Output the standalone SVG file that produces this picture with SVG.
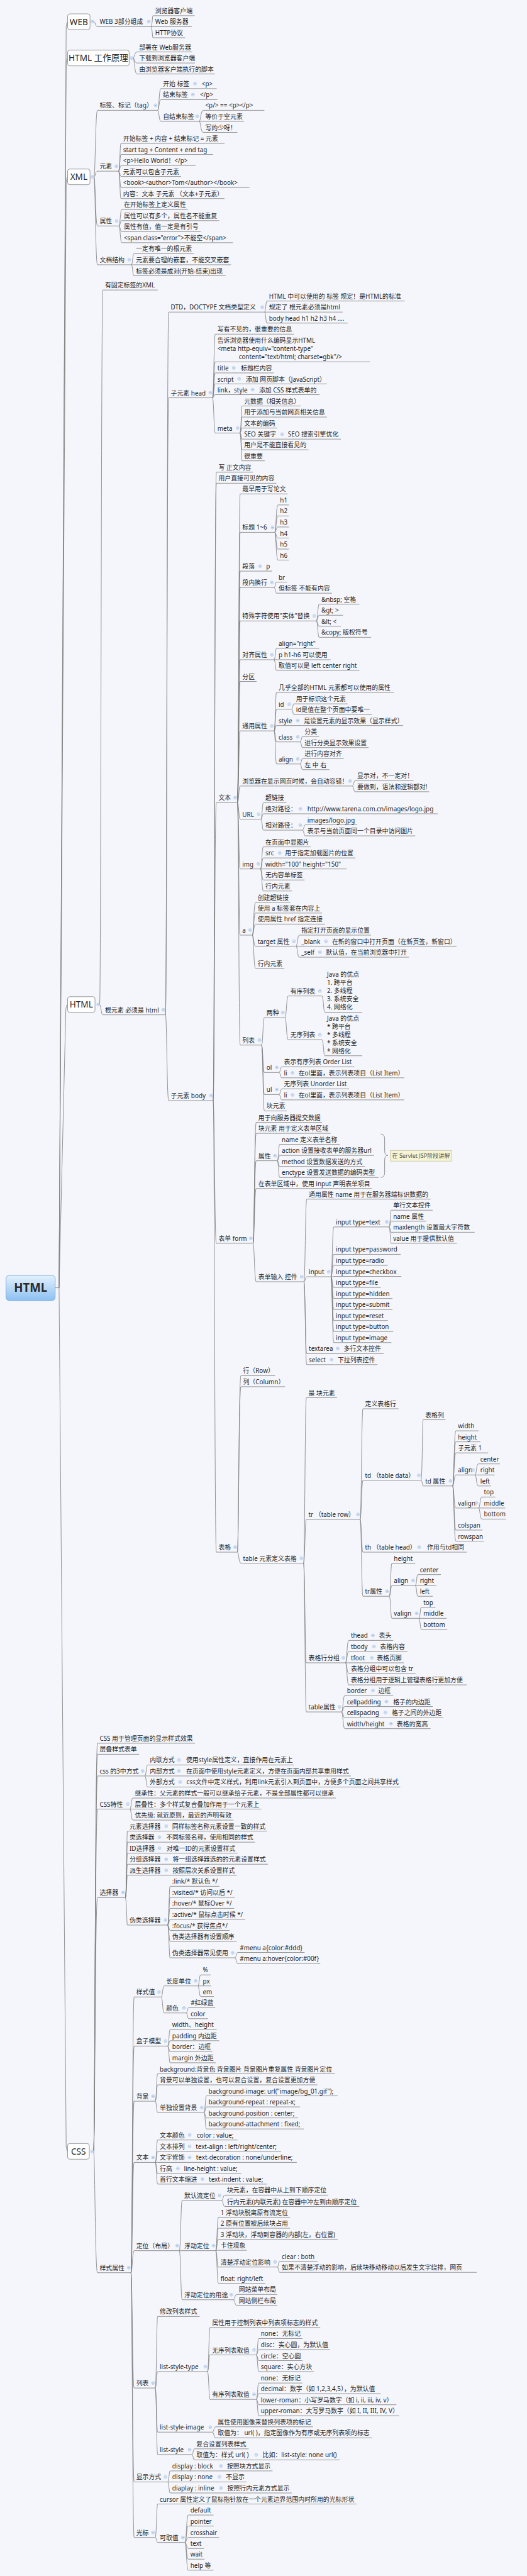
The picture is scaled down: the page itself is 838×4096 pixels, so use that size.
<svg xmlns="http://www.w3.org/2000/svg" width="838" height="4096" viewBox="0 0 838 4096">
<defs>
<style>
text{font-family:"Noto Sans","Noto Sans CJK SC",sans-serif;font-size:17.5px;fill:#1f1f1f}
.u,.c path{fill:none;stroke:#7f7f7f;stroke-width:1.5}
.box{fill:#fff;stroke:#8a8a8a;stroke-width:1.5}
.bt{font-size:24px;text-anchor:middle}
</style>
<linearGradient id="rg" x1="0" y1="0" x2="0" y2="1"><stop offset="0" stop-color="#e4f1fd"/><stop offset="1" stop-color="#8cc0f2"/></linearGradient>
<g id="k"><circle r="4.3" fill="#dde8f7" stroke="#9db9e0" stroke-width="1"/><path d="M-2.2 0H2.2" stroke="#6e93c9" stroke-width="1.1"/></g>
</defs>
<rect width="838" height="4096" fill="#f4f6fb"/>
<g transform="scale(0.5658)">
<g id="connectors" class="c">
<path d="M155 3619H166L186 75Q188 61 190 61"/>
<path d="M166 3619L186 177Q188 163 190 163"/>
<path d="M166 3619L186 511Q188 497 190 497"/>
<path d="M166 3619L185 2837Q187 2823 190 2823"/>
<path d="M166 3619L186 6032Q188 6046 190 6046"/>
<path d="M264 61C268 61 268 75 274 75"/>
<path d="M374 163C378 163 378 146 385 146M374 163C378 163 378 177 385 177M374 163C378 163 378 208 385 208"/>
<path d="M264 497C268 497 268 310 274 310M264 497C268 497 268 481 274 481M264 497C268 497 268 635 274 635M264 497C268 497 268 744 274 744"/>
<path d="M280 2823C284 2823 284 815 289 815M280 2823C284 2823 284 2852 289 2852"/>
<path d="M263 6046C267 6046 267 4899 274 4899M263 6046C267 6046 267 4930 274 4930M263 6046C267 6046 267 4991 274 4991M263 6046C267 6046 267 5084 274 5084M263 6046C267 6046 267 5333 274 5333M263 6046C267 6046 267 6387 274 6387"/>
<path d="M424 75C428 75 428 44 430 44M424 75H430M424 75C428 75 428 106 430 106"/>
<path d="M443 310C447 310 447 249 452 249M443 310C447 310 447 280 452 280M443 310C447 310 447 341 452 341M554 249H561M548 280H556"/>
<path d="M560 341C564 341 564 310 571 310M560 341H571M560 341C564 341 564 372 571 372"/>
<path d="M333 481C337 481 337 403 340 403M333 481C337 481 337 434 340 434M333 481C337 481 337 465 340 465M333 481C337 481 337 496 340 496M333 481C337 481 337 527 340 527M333 481C337 481 337 558 340 558"/>
<path d="M334 635C338 635 338 589 342 589M334 635C338 635 338 620 342 620M334 635C338 635 338 651 342 651M334 635C338 635 338 682 342 682"/>
<path d="M369 744C373 744 373 713 376 713M369 744H376M369 744C373 744 373 775 376 775"/>
<path d="M465 2852C469 2852 469 877 474 877M465 2852C469 2852 469 1118 474 1118M465 2852C469 2852 469 3093 474 3093"/>
<path d="M743 877C747 877 747 846 750 846M743 877H750M743 877C747 877 747 908 750 908"/>
<path d="M597 1118C601 1118 601 939 605 939M597 1118C601 1118 601 1017 605 1017M597 1118C601 1118 601 1048 605 1048M597 1118C601 1118 601 1079 605 1079M597 1118C601 1118 601 1109 605 1109M597 1118C601 1118 601 1217 605 1217M663 1048H671M678 1079H685M716 1109H722"/>
<path d="M674 1217C678 1217 678 1141 680 1141M674 1217C678 1217 678 1172 680 1172M674 1217C678 1217 678 1203 680 1203M674 1217C678 1217 678 1234 680 1234M674 1217C678 1217 678 1264 680 1264M674 1217C678 1217 678 1295 680 1295M799 1234H803"/>
<path d="M599 3093C603 3093 603 1327 608 1327M599 3093C603 3093 603 1358 608 1358M599 3093C603 3093 603 2256 608 2256M599 3093C603 3093 603 3494 608 3494M599 3093C603 3093 603 4362 608 4362"/>
<path d="M667 2256C671 2256 671 1388 675 1388M667 2256C671 2256 671 1496 675 1496M667 2256C671 2256 671 1605 675 1605M667 2256C671 2256 671 1651 675 1651M667 2256C671 2256 671 1745 675 1745M667 2256C671 2256 671 1854 675 1854M667 2256C671 2256 671 1915 675 1915M667 2256C671 2256 671 2054 675 2054M667 2256C671 2256 671 2209 675 2209M667 2256C671 2256 671 2302 675 2302M667 2256C671 2256 671 2442 675 2442M667 2256C671 2256 671 2628 675 2628M667 2256C671 2256 671 2937 675 2937M737 1605H742"/>
<path d="M772 1496C776 1496 776 1419 781 1419M772 1496C776 1496 776 1450 781 1450M772 1496C776 1496 776 1481 781 1481M772 1496C776 1496 776 1512 781 1512M772 1496C776 1496 776 1543 781 1543M772 1496C776 1496 776 1574 781 1574"/>
<path d="M770 1651C774 1651 774 1636 777 1636M770 1651C774 1651 774 1667 777 1667"/>
<path d="M889 1745C893 1745 893 1698 897 1698M889 1745C893 1745 893 1729 897 1729M889 1745C893 1745 893 1760 897 1760M889 1745C893 1745 893 1791 897 1791"/>
<path d="M770 1854C774 1854 774 1822 777 1822M770 1854H777M770 1854C774 1854 774 1884 777 1884"/>
<path d="M770 2054C774 2054 774 1946 777 1946M770 2054C774 2054 774 1993 777 1993M770 2054C774 2054 774 2039 777 2039M770 2054C774 2054 774 2085 777 2085M770 2054C774 2054 774 2147 777 2147M843 2039H848"/>
<path d="M819 1993C823 1993 823 1978 826 1978M819 1993C823 1993 823 2008 826 2008"/>
<path d="M843 2085C847 2085 847 2070 850 2070M843 2085C847 2085 847 2101 850 2101M843 2147C847 2147 847 2132 850 2132M843 2147C847 2147 847 2163 850 2163"/>
<path d="M990 2209C994 2209 994 2194 998 2194M990 2209C994 2209 994 2225 998 2225"/>
<path d="M733 2302C737 2302 737 2256 740 2256M733 2302C737 2302 737 2287 740 2287M733 2302C737 2302 737 2333 740 2333M850 2287H858M850 2333C854 2333 854 2318 858 2318M850 2333C854 2333 854 2349 858 2349"/>
<path d="M732 2442C736 2442 736 2380 740 2380M732 2442C736 2442 736 2411 740 2411M732 2442H740M732 2442C736 2442 736 2473 740 2473M732 2442C736 2442 736 2504 740 2504M792 2411H795"/>
<path d="M709 2628C713 2628 713 2536 718 2536M709 2628C713 2628 713 2566 718 2566M709 2628C713 2628 713 2597 718 2597M709 2628C713 2628 713 2659 718 2659M709 2628C713 2628 713 2721 718 2721"/>
<path d="M832 2659C836 2659 836 2628 841 2628M832 2659H841M832 2659C836 2659 836 2690 841 2690M922 2659H927M905 2690H910"/>
<path d="M735 2937C739 2937 739 2860 743 2860M735 2937C739 2937 739 3014 743 3014M735 2937C739 2937 739 3076 743 3076M735 2937C739 2937 739 3122 743 3122"/>
<path d="M801 2860C805 2860 805 2799 810 2799M801 2860C805 2860 805 2922 810 2922M905 2799C909 2799 909 2845 913 2845M905 2922C909 2922 909 2967 913 2967"/>
<path d="M784 3014C788 3014 788 2998 792 2998M784 3014C788 3014 788 3029 792 3029M828 3029H833M784 3076C788 3076 788 3060 792 3060M784 3076C788 3076 788 3091 792 3091M828 3091H833"/>
<path d="M711 3494C715 3494 715 3154 720 3154M711 3494C715 3494 715 3185 720 3185M711 3494C715 3494 715 3262 720 3262M711 3494C715 3494 715 3340 720 3340M711 3494C715 3494 715 3602 720 3602"/>
<path d="M779 3262C783 3262 783 3216 786 3216M779 3262C783 3262 783 3247 786 3247M779 3262C783 3262 783 3278 786 3278M779 3262C783 3262 783 3309 786 3309"/>
<path d="M854 3602C858 3602 858 3370 862 3370M854 3602C858 3602 858 3588 862 3588M854 3602C858 3602 858 3804 862 3804M854 3602C858 3602 858 3835 862 3835M955 3804H960M938 3835H943"/>
<path d="M930 3588C934 3588 934 3448 938 3448M930 3588C934 3588 934 3525 938 3525M930 3588C934 3588 934 3556 938 3556M930 3588C934 3588 934 3587 938 3587M930 3588C934 3588 934 3618 938 3618M930 3588C934 3588 934 3649 938 3649M930 3588C934 3588 934 3680 938 3680M930 3588C934 3588 934 3711 938 3711M930 3588C934 3588 934 3742 938 3742M930 3588C934 3588 934 3773 938 3773"/>
<path d="M1093 3448C1097 3448 1097 3401 1099 3401M1093 3448C1097 3448 1097 3432 1099 3432M1093 3448C1097 3448 1097 3463 1099 3463M1093 3448C1097 3448 1097 3494 1099 3494"/>
<path d="M667 4362C671 4362 671 3866 677 3866M667 4362C671 4362 671 3897 677 3897M667 4362C671 4362 671 4393 677 4393"/>
<path d="M853 4393C857 4393 857 3928 861 3928M853 4393C857 4393 857 4270 861 4270M853 4393C857 4393 857 4673 861 4673M853 4393C857 4393 857 4811 861 4811"/>
<path d="M1012 4270C1016 4270 1016 3959 1020 3959M1012 4270C1016 4270 1016 4160 1020 4160M1012 4270C1016 4270 1016 4362 1020 4362M1012 4270C1016 4270 1016 4486 1020 4486M1184 4362H1194"/>
<path d="M1183 4160C1187 4160 1187 3990 1189 3990M1183 4160C1187 4160 1187 4176 1189 4176"/>
<path d="M1272 4176C1276 4176 1276 4021 1281 4021M1272 4176C1276 4176 1276 4052 1281 4052M1272 4176C1276 4176 1276 4083 1281 4083M1272 4176C1276 4176 1276 4145 1281 4145M1272 4176C1276 4176 1276 4238 1281 4238M1272 4176C1276 4176 1276 4300 1281 4300M1272 4176C1276 4176 1276 4331 1281 4331"/>
<path d="M1335 4145C1339 4145 1339 4114 1344 4114M1335 4145H1344M1335 4145C1339 4145 1339 4176 1344 4176M1345 4238C1349 4238 1349 4207 1354 4207M1345 4238H1354M1345 4238C1349 4238 1349 4269 1354 4269"/>
<path d="M1094 4486C1098 4486 1098 4394 1101 4394M1094 4486C1098 4486 1098 4456 1101 4456M1094 4486C1098 4486 1098 4548 1101 4548"/>
<path d="M1167 4456C1171 4456 1171 4425 1174 4425M1167 4456H1174M1167 4456C1171 4456 1171 4486 1174 4486M1177 4548C1181 4548 1181 4517 1184 4517M1177 4548H1184M1177 4548C1181 4548 1181 4579 1184 4579"/>
<path d="M971 4673C975 4673 975 4610 980 4610M971 4673C975 4673 975 4641 980 4641M971 4673H980M971 4673C975 4673 975 4703 980 4703M971 4673C975 4673 975 4735 980 4735M1054 4610H1059M1057 4641H1062M1051 4673H1053"/>
<path d="M960 4811C964 4811 964 4765 969 4765M960 4811C964 4811 964 4796 969 4796M960 4811C964 4811 964 4827 969 4827M960 4811C964 4811 964 4858 969 4858M1054 4765H1057M1092 4796H1099M1089 4827H1095M1105 4858H1109"/>
<path d="M407 4991C411 4991 411 4960 415 4960M407 4991H415M407 4991C411 4991 411 5022 415 5022M509 4960H517M509 4991H517M512 5022H518"/>
<path d="M365 5084C369 5084 369 5053 373 5053M365 5084H373M365 5084C369 5084 369 5115 373 5115"/>
<path d="M352 5333C356 5333 356 5146 358 5146M352 5333C356 5333 356 5177 358 5177M352 5333C356 5333 356 5208 358 5208M352 5333C356 5333 356 5239 358 5239M352 5333C356 5333 356 5270 358 5270M352 5333C356 5333 356 5410 358 5410M473 5146H478M454 5177H461M454 5208H462M473 5239H479M473 5270H479"/>
<path d="M471 5410C475 5410 475 5301 478 5301M471 5410C475 5410 475 5332 478 5332M471 5410C475 5410 475 5363 478 5363M471 5410C475 5410 475 5394 478 5394M471 5410C475 5410 475 5425 478 5425M471 5410C475 5410 475 5456 478 5456M471 5410C475 5410 475 5502 478 5502M660 5502C664 5502 664 5487 668 5487M660 5502C664 5502 664 5518 668 5518"/>
<path d="M368 6387C372 6387 372 5612 377 5612M368 6387C372 6387 372 5750 377 5750M368 6387C372 6387 372 5905 377 5905M368 6387C372 6387 372 6077 377 6077M368 6387C372 6387 372 6325 377 6325M368 6387C372 6387 372 6711 377 6711M368 6387C372 6387 372 6975 377 6975M368 6387C372 6387 372 7131 377 7131"/>
<path d="M453 5612C457 5612 457 5581 461 5581M453 5612C457 5612 457 5657 461 5657M556 5581C560 5581 560 5550 564 5550M556 5581H564M556 5581C560 5581 560 5611 564 5611M523 5657C527 5657 527 5642 530 5642M523 5657C527 5657 527 5673 530 5673"/>
<path d="M471 5750C475 5750 475 5704 478 5704M471 5750C475 5750 475 5735 478 5735M471 5750C475 5750 475 5766 478 5766M471 5750C475 5750 475 5797 478 5797"/>
<path d="M436 5905C440 5905 440 5828 443 5828M436 5905C440 5905 440 5859 443 5859M436 5905C440 5905 440 5937 443 5937M573 5937C577 5937 577 5890 580 5890M573 5937C577 5937 577 5921 580 5921M573 5937C577 5937 577 5952 580 5952M573 5937C577 5937 577 5983 580 5983"/>
<path d="M436 6077C440 6077 440 6014 443 6014M436 6077C440 6077 440 6046 443 6046M436 6077H443M436 6077C440 6077 440 6108 443 6108M436 6077C440 6077 440 6138 443 6138M539 6014H547M539 6046H544M539 6077H545M506 6108H511M575 6138H581"/>
<path d="M504 6325C508 6325 508 6184 512 6184M504 6325H512M504 6325C508 6325 508 6463 512 6463M623 6184C627 6184 627 6169 632 6169M623 6184C627 6184 627 6201 632 6201"/>
<path d="M606 6325C610 6325 610 6231 614 6231M606 6325C610 6325 610 6262 614 6262M606 6325C610 6325 610 6293 614 6293M606 6325C610 6325 610 6324 614 6324M606 6325C610 6325 610 6371 614 6371M606 6325C610 6325 610 6417 614 6417M779 6371C783 6371 783 6355 786 6355M779 6371C783 6371 783 6386 786 6386M656 6463C660 6463 660 6448 665 6448M656 6463C660 6463 660 6479 665 6479"/>
<path d="M436 6711C440 6711 440 6510 443 6510M436 6711C440 6711 440 6665 443 6665M436 6711C440 6711 440 6835 443 6835M436 6711C440 6711 440 6898 443 6898"/>
<path d="M583 6665C587 6665 587 6541 590 6541M583 6665C587 6665 587 6618 590 6618M583 6665C587 6665 587 6743 590 6743"/>
<path d="M720 6618C724 6618 724 6572 727 6572M720 6618C724 6618 724 6603 727 6603M720 6618C724 6618 724 6634 727 6634M720 6618C724 6618 724 6665 727 6665M720 6743C724 6743 724 6697 727 6697M720 6743C724 6743 724 6727 727 6727M720 6743C724 6743 724 6758 727 6758M720 6743C724 6743 724 6789 727 6789"/>
<path d="M597 6835C601 6835 601 6820 606 6820M597 6835C601 6835 601 6851 606 6851M539 6898C543 6898 543 6882 546 6882M539 6898C543 6898 543 6913 546 6913M726 6913H732"/>
<path d="M471 6975C475 6975 475 6944 478 6944M471 6975H478M471 6975C475 6975 475 7006 478 7006M627 6944H632M623 6975H629M627 7006H633"/>
<path d="M436 7131C440 7131 440 7037 443 7037M436 7131C440 7131 440 7145 443 7145M520 7145C524 7145 524 7068 529 7068M520 7145C524 7145 524 7099 529 7099M520 7145C524 7145 524 7131 529 7131M520 7145C524 7145 524 7162 529 7162M520 7145C524 7145 524 7192 529 7192M520 7145C524 7145 524 7223 529 7223"/>
</g>
<g id="root"><rect x="17" y="3584" width="138" height="71" rx="9" fill="url(#rg)" stroke="#6f9fd3" stroke-width="1.5"/><text x="86" y="3631" style="font-size:33px;font-weight:bold;text-anchor:middle;fill:#2b2b2b">HTML</text></g>
<g id="web"><rect class="box" x="190" y="39" width="63" height="44" rx="6"/><text class="bt" x="221.5" y="70">WEB</text><use href="#k" x="260" y="61"/></g>
<g id="htmlwork"><rect class="box" x="190" y="141" width="173" height="44" rx="6"/><text class="bt" x="276.5" y="172">HTML 工作原理</text><use href="#k" x="370" y="163"/></g>
<g id="xml"><rect class="box" x="190" y="475" width="63" height="44" rx="6"/><text class="bt" x="221.5" y="506">XML</text><use href="#k" x="260" y="497"/></g>
<g id="html"><rect class="box" x="190" y="2801" width="77" height="44" rx="6"/><text class="bt" x="228.5" y="2832">HTML</text><use href="#k" x="276" y="2823"/></g>
<g id="css"><rect class="box" x="190" y="6024" width="61" height="44" rx="6"/><text class="bt" x="220.5" y="6055">CSS</text><use href="#k" x="259" y="6046"/></g>
<g id="w1"><path class="u" d="M274 75H424"/><text x="280" y="68">WEB 3部分组成</text><use href="#k" x="418" y="61"/></g>
<g id="w2"><path class="u" d="M430 44H547"/><text x="436" y="37">浏览器客户端</text></g>
<g id="w3"><path class="u" d="M430 75H539"/><text x="436" y="68">Web 服务器</text></g>
<g id="w4"><path class="u" d="M430 106H520"/><text x="436" y="99">HTTP协议</text></g>
<g id="h1n"><path class="u" d="M385 146H540"/><text x="391" y="139">部署在 Web服务器</text></g>
<g id="h2n"><path class="u" d="M385 177H548"/><text x="391" y="170">下载到浏览器客户端</text></g>
<g id="h3n"><path class="u" d="M385 208H604"/><text x="391" y="201">由浏览器客户端执行的脚本</text></g>
<g id="x1"><path class="u" d="M274 310H443"/><text x="280" y="303">标签、标记（tag）</text><use href="#k" x="437" y="296"/></g>
<g id="x2"><path class="u" d="M452 249H554"/><text x="458" y="242">开始 标签</text><use href="#k" x="548" y="235"/></g>
<g id="x3"><path class="u" d="M561 249H609"/><text x="567" y="242">&lt;p&gt;</text></g>
<g id="x4"><path class="u" d="M452 280H548"/><text x="458" y="273">结束标签</text><use href="#k" x="542" y="266"/></g>
<g id="x5"><path class="u" d="M556 280H611"/><text x="562" y="273">&lt;/p&gt;</text></g>
<g id="x6"><path class="u" d="M452 341H560"/><text x="458" y="334">自结束标签</text><use href="#k" x="554" y="327"/></g>
<g id="x7"><path class="u" d="M571 310H743"/><text x="577" y="303">&lt;p/&gt; == &lt;p&gt;&lt;/p&gt;</text></g>
<g id="x8"><path class="u" d="M571 341H686"/><text x="577" y="334">等价于空元素</text></g>
<g id="x9"><path class="u" d="M571 372H667"/><text x="577" y="365">写的少呀！</text></g>
<g id="x10"><path class="u" d="M274 481H333"/><text x="280" y="474">元素</text><use href="#k" x="327" y="467"/></g>
<g id="x11"><path class="u" d="M340 403H631"/><text x="346" y="396">开始标签 + 内容 + 结束标记 = 元素</text></g>
<g id="x12"><path class="u" d="M340 434H599"/><text x="346" y="427">start tag + Content + end tag</text></g>
<g id="x13"><path class="u" d="M340 465H550"/><text x="346" y="458">&lt;p&gt;Hello World！&lt;/p&gt;</text></g>
<g id="x14"><path class="u" d="M340 496H509"/><text x="346" y="489">元素可以包含子元素</text></g>
<g id="x15"><path class="u" d="M340 527H701"/><text x="346" y="520">&lt;book&gt;&lt;author&gt;Tom&lt;/author&gt;&lt;/book&gt;</text></g>
<g id="x16"><path class="u" d="M340 558H631"/><text x="346" y="551">内容：文本 子元素 （文本+子元素）</text></g>
<g id="x17"><path class="u" d="M274 635H334"/><text x="280" y="628">属性</text><use href="#k" x="328" y="621"/></g>
<g id="x18"><path class="u" d="M342 589H528"/><text x="348" y="582">在开始标签上定义属性</text></g>
<g id="x19"><path class="u" d="M342 620H616"/><text x="348" y="613">属性可以有多个，属性名不能重复</text></g>
<g id="x20"><path class="u" d="M342 651H564"/><text x="348" y="644">属性有值，值一定是有引号</text></g>
<g id="x21"><path class="u" d="M342 682H655"/><text x="348" y="675">&lt;span class="error"&gt;不能空&lt;/span&gt;</text></g>
<g id="x22"><path class="u" d="M274 744H369"/><text x="280" y="737">文档结构</text><use href="#k" x="363" y="730"/></g>
<g id="x23"><path class="u" d="M376 713H545"/><text x="382" y="706">一定有唯一的根元素</text></g>
<g id="x24"><path class="u" d="M376 744H649"/><text x="382" y="737">元素要合理的嵌套，不能交叉嵌套</text></g>
<g id="x25"><path class="u" d="M376 775H634"/><text x="382" y="768">标签必须是成对(开始-结束)出现</text></g>
<g id="t1"><path class="u" d="M289 815H443"/><text x="295" y="808">有固定标签的XML</text></g>
<g id="t2"><path class="u" d="M289 2852H465"/><text x="295" y="2845">根元素 必须是 html</text><use href="#k" x="459" y="2838"/></g>
<g id="t3"><path class="u" d="M474 877H743"/><text x="480" y="870">DTD，DOCTYPE 文档类型定义</text><use href="#k" x="737" y="863"/></g>
<g id="t4"><path class="u" d="M750 846H1137"/><text x="756" y="839">HTML 中可以使用的 标签 规定！是HTML的标准</text></g>
<g id="t5"><path class="u" d="M750 877H963"/><text x="756" y="870">规定了 根元素必须是html</text></g>
<g id="t6"><path class="u" d="M750 908H977"/><text x="756" y="901">body head h1 h2 h3 h4 ....</text></g>
<g id="t7"><path class="u" d="M474 1118H597"/><text x="480" y="1111">子元素 head</text><use href="#k" x="591" y="1104"/></g>
<g id="t8"><path class="u" d="M605 939H826"/><text x="611" y="932">写看不见的，很重要的信息</text></g>
<g id="t9"><path class="u" d="M605 1017H1040"/><text x="611" y="963">告诉浏览器使用什么编码显示HTML</text><text x="611" y="986">&lt;meta http-equiv="content-type"</text><text x="671" y="1009">content="text/html; charset=gbk"/&gt;</text></g>
<g id="t10"><path class="u" d="M605 1048H663"/><text x="611" y="1041">title</text><use href="#k" x="657" y="1034"/></g>
<g id="t11"><path class="u" d="M671 1048H770"/><text x="677" y="1041">标题栏内容</text></g>
<g id="t12"><path class="u" d="M605 1079H678"/><text x="611" y="1072">script</text><use href="#k" x="672" y="1065"/></g>
<g id="t13"><path class="u" d="M685 1079H919"/><text x="691" y="1072">添加 网页脚本（JavaScript）</text></g>
<g id="t14"><path class="u" d="M605 1109H716"/><text x="611" y="1102">link，style</text><use href="#k" x="710" y="1095"/></g>
<g id="t15"><path class="u" d="M722 1109H898"/><text x="728" y="1102">添加 CSS 样式表单的</text></g>
<g id="t16"><path class="u" d="M605 1217H674"/><text x="611" y="1210">meta</text><use href="#k" x="668" y="1203"/></g>
<g id="t17"><path class="u" d="M680 1141H845"/><text x="686" y="1134">元数据（相关信息）</text></g>
<g id="t18"><path class="u" d="M680 1172H919"/><text x="686" y="1165">用于添加与当前网页相关信息</text></g>
<g id="t19"><path class="u" d="M680 1203H779"/><text x="686" y="1196">文本的编码</text></g>
<g id="t20"><path class="u" d="M680 1234H799"/><text x="686" y="1227">SEO 关键字</text><use href="#k" x="793" y="1220"/></g>
<g id="t21"><path class="u" d="M803 1234H958"/><text x="809" y="1227">SEO 搜索引擎优化</text></g>
<g id="t22"><path class="u" d="M680 1264H867"/><text x="686" y="1257">用户是不能直接看见的</text></g>
<g id="t23"><path class="u" d="M680 1295H744"/><text x="686" y="1288">很重要</text></g>
<g id="b0"><path class="u" d="M474 3093H599"/><text x="480" y="3086">子元素 body</text><use href="#k" x="593" y="3079"/></g>
<g id="b1"><path class="u" d="M608 1327H711"/><text x="614" y="1320">写 正文内容</text></g>
<g id="b2"><path class="u" d="M608 1358H777"/><text x="614" y="1351">用户直接可见的内容</text></g>
<g id="b3"><path class="u" d="M608 2256H667"/><text x="614" y="2249">文本</text><use href="#k" x="661" y="2242"/></g>
<g id="b4"><path class="u" d="M675 1388H809"/><text x="681" y="1381">最早用于写论文</text></g>
<g id="b5"><path class="u" d="M675 1496H772"/><text x="681" y="1489">标题 1~6</text><use href="#k" x="766" y="1482"/></g>
<g id="b6"><path class="u" d="M781 1419H812"/><text x="787" y="1412">h1</text></g>
<g id="b7"><path class="u" d="M781 1450H812"/><text x="787" y="1443">h2</text></g>
<g id="b8"><path class="u" d="M781 1481H812"/><text x="787" y="1474">h3</text></g>
<g id="b9"><path class="u" d="M781 1512H812"/><text x="787" y="1505">h4</text></g>
<g id="b10"><path class="u" d="M781 1543H812"/><text x="787" y="1536">h5</text></g>
<g id="b11"><path class="u" d="M781 1574H812"/><text x="787" y="1567">h6</text></g>
<g id="b12"><path class="u" d="M675 1605H737"/><text x="681" y="1598">段落</text><use href="#k" x="731" y="1591"/></g>
<g id="b13"><path class="u" d="M742 1605H765"/><text x="748" y="1598">p</text></g>
<g id="b14"><path class="u" d="M675 1651H770"/><text x="681" y="1644">段内换行</text><use href="#k" x="764" y="1637"/></g>
<g id="b15"><path class="u" d="M777 1636H807"/><text x="783" y="1629">br</text></g>
<g id="b16"><path class="u" d="M777 1667H933"/><text x="783" y="1660">但标签 不能有内容</text></g>
<g id="b17"><path class="u" d="M675 1745H889"/><text x="681" y="1738">特殊字符使用"实体"替换</text><use href="#k" x="883" y="1731"/></g>
<g id="b18"><path class="u" d="M897 1698H1010"/><text x="903" y="1691">&amp;nbsp; 空格</text></g>
<g id="b19"><path class="u" d="M897 1729H964"/><text x="903" y="1722">&amp;gt; &gt;</text></g>
<g id="b20"><path class="u" d="M897 1760H958"/><text x="903" y="1753">&amp;lt; &lt;</text></g>
<g id="b21"><path class="u" d="M897 1791H1043"/><text x="903" y="1784">&amp;copy; 版权符号</text></g>
<g id="b22"><path class="u" d="M675 1854H770"/><text x="681" y="1847">对齐属性</text><use href="#k" x="764" y="1840"/></g>
<g id="b23"><path class="u" d="M777 1822H897"/><text x="783" y="1815">align="right"</text></g>
<g id="b24"><path class="u" d="M777 1854H929"/><text x="783" y="1847">p h1-h6 可以使用</text></g>
<g id="b25"><path class="u" d="M777 1884H1010"/><text x="783" y="1877">取值可以是 left center right</text></g>
<g id="b26"><path class="u" d="M675 1915H721"/><text x="681" y="1908">分区</text></g>
<g id="b27"><path class="u" d="M675 2054H770"/><text x="681" y="2047">通用属性</text><use href="#k" x="764" y="2040"/></g>
<g id="b28"><path class="u" d="M777 1946H1107"/><text x="783" y="1939">几乎全部的HTML 元素都可以使用的属性</text></g>
<g id="b29"><path class="u" d="M777 1993H819"/><text x="783" y="1986">id</text><use href="#k" x="813" y="1979"/></g>
<g id="b30"><path class="u" d="M826 1978H977"/><text x="832" y="1971">用于标识这个元素</text></g>
<g id="b31"><path class="u" d="M826 2008H1045"/><text x="832" y="2001">id是值在整个页面中要唯一</text></g>
<g id="b32"><path class="u" d="M777 2039H843"/><text x="783" y="2032">style</text><use href="#k" x="837" y="2025"/></g>
<g id="b33"><path class="u" d="M848 2039H1133"/><text x="854" y="2032">是设置元素的显示效果（显示样式）</text></g>
<g id="b34"><path class="u" d="M777 2085H843"/><text x="783" y="2078">class</text><use href="#k" x="837" y="2071"/></g>
<g id="b35"><path class="u" d="M850 2070H897"/><text x="856" y="2063">分类</text></g>
<g id="b36"><path class="u" d="M850 2101H1036"/><text x="856" y="2094">进行分类显示效果设置</text></g>
<g id="b37"><path class="u" d="M777 2147H843"/><text x="783" y="2140">align</text><use href="#k" x="837" y="2133"/></g>
<g id="b38"><path class="u" d="M850 2132H966"/><text x="856" y="2125">进行内容对齐</text></g>
<g id="b39"><path class="u" d="M850 2163H926"/><text x="856" y="2156">左 中 右</text></g>
<g id="b40"><path class="u" d="M675 2209H990"/><text x="681" y="2202">浏览器在显示网页时候，会自动容错！</text><use href="#k" x="984" y="2195"/></g>
<g id="b41"><path class="u" d="M998 2194H1162"/><text x="1004" y="2187">显示对，不一定对！</text></g>
<g id="b42"><path class="u" d="M998 2225H1206"/><text x="1004" y="2218">要做到，语法和逻辑都对!</text></g>
<g id="b43"><path class="u" d="M675 2302H733"/><text x="681" y="2295">URL</text><use href="#k" x="727" y="2288"/></g>
<g id="b44"><path class="u" d="M740 2256H805"/><text x="746" y="2249">超链接</text></g>
<g id="b45"><path class="u" d="M740 2287H850"/><text x="746" y="2280">绝对路径：</text><use href="#k" x="844" y="2273"/></g>
<g id="b46"><path class="u" d="M858 2287H1230"/><text x="864" y="2280">http://www.tarena.com.cn/images/logo.jpg</text></g>
<g id="b47"><path class="u" d="M740 2333H850"/><text x="746" y="2326">相对路径：</text><use href="#k" x="844" y="2319"/></g>
<g id="b48"><path class="u" d="M858 2318H1004"/><text x="864" y="2311">images/logo.jpg</text></g>
<g id="b49"><path class="u" d="M858 2349H1167"/><text x="864" y="2342">表示与当前页面同一个目录中访问图片</text></g>
<g id="b50"><path class="u" d="M675 2442H732"/><text x="681" y="2435">img</text><use href="#k" x="726" y="2428"/></g>
<g id="b51"><path class="u" d="M740 2380H873"/><text x="746" y="2373">在页面中显图片</text></g>
<g id="b52"><path class="u" d="M740 2411H792"/><text x="746" y="2404">src</text><use href="#k" x="786" y="2397"/></g>
<g id="b53"><path class="u" d="M795 2411H999"/><text x="801" y="2404">用于指定加载图片的位置</text></g>
<g id="b54"><path class="u" d="M740 2442H974"/><text x="746" y="2435">width="100" height="150"</text></g>
<g id="b55"><path class="u" d="M740 2473H856"/><text x="746" y="2466">无内容单标签</text></g>
<g id="b56"><path class="u" d="M740 2504H821"/><text x="746" y="2497">行内元素</text></g>
<g id="b57"><path class="u" d="M675 2628H709"/><text x="681" y="2621">a</text><use href="#k" x="703" y="2614"/></g>
<g id="b58"><path class="u" d="M718 2536H816"/><text x="724" y="2529">创建超链接</text></g>
<g id="b59"><path class="u" d="M718 2566H905"/><text x="724" y="2559">使用 a 标签套在内容上</text></g>
<g id="b60"><path class="u" d="M718 2597H913"/><text x="724" y="2590">使用属性 href 指定连接</text></g>
<g id="b61"><path class="u" d="M718 2659H832"/><text x="724" y="2652">target 属性</text><use href="#k" x="826" y="2645"/></g>
<g id="b62"><path class="u" d="M841 2628H1043"/><text x="847" y="2621">指定打开页面的显示位置</text></g>
<g id="b63"><path class="u" d="M841 2659H922"/><text x="847" y="2652">_blank</text><use href="#k" x="916" y="2645"/></g>
<g id="b64"><path class="u" d="M927 2659H1283"/><text x="933" y="2652">在新的窗口中打开页面（在新页签，新窗口）</text></g>
<g id="b65"><path class="u" d="M841 2690H905"/><text x="847" y="2683">_self</text><use href="#k" x="899" y="2676"/></g>
<g id="b66"><path class="u" d="M910 2690H1149"/><text x="916" y="2683">默认值，在当前浏览器中打开</text></g>
<g id="b67"><path class="u" d="M718 2721H799"/><text x="724" y="2714">行内元素</text></g>
<g id="b68"><path class="u" d="M675 2937H735"/><text x="681" y="2930">列表</text><use href="#k" x="729" y="2923"/></g>
<g id="b69"><path class="u" d="M743 2860H801"/><text x="749" y="2853">两种</text><use href="#k" x="795" y="2846"/></g>
<g id="b70"><path class="u" d="M810 2799H905"/><text x="816" y="2792">有序列表</text><use href="#k" x="899" y="2785"/></g>
<g id="b71"><path class="u" d="M913 2845H1018"/><text x="919" y="2745">Java 的优点</text><text x="919" y="2768">1. 跨平台</text><text x="919" y="2791">2. 多线程</text><text x="919" y="2814">3. 系统安全</text><text x="919" y="2837">4. 网络化</text></g>
<g id="b72"><path class="u" d="M810 2922H905"/><text x="816" y="2915">无序列表</text><use href="#k" x="899" y="2908"/></g>
<g id="b73"><path class="u" d="M913 2967H1018"/><text x="919" y="2868">Java 的优点</text><text x="919" y="2891">* 跨平台</text><text x="919" y="2914">* 多线程</text><text x="919" y="2937">* 系统安全</text><text x="919" y="2960">* 网络化</text></g>
<g id="b74"><path class="u" d="M743 3014H784"/><text x="749" y="3007">ol</text><use href="#k" x="778" y="3000"/></g>
<g id="b75"><path class="u" d="M792 2998H996"/><text x="798" y="2991">表示有序列表 Order List</text></g>
<g id="b76"><path class="u" d="M792 3029H828"/><text x="798" y="3022">li</text><use href="#k" x="822" y="3015"/></g>
<g id="b77"><path class="u" d="M833 3029H1136"/><text x="839" y="3022">在ol里面，表示列表项目（List Item）</text></g>
<g id="b78"><path class="u" d="M743 3076H784"/><text x="749" y="3069">ul</text><use href="#k" x="778" y="3062"/></g>
<g id="b79"><path class="u" d="M792 3060H981"/><text x="798" y="3053">无序列表 Unorder List</text></g>
<g id="b80"><path class="u" d="M792 3091H828"/><text x="798" y="3084">li</text><use href="#k" x="822" y="3077"/></g>
<g id="b81"><path class="u" d="M833 3091H1136"/><text x="839" y="3084">在ol里面，表示列表项目（List Item）</text></g>
<g id="b82"><path class="u" d="M743 3122H806"/><text x="749" y="3115">块元素</text></g>
<g id="f0"><path class="u" d="M608 3494H711"/><text x="614" y="3487">表单 form</text><use href="#k" x="705" y="3480"/></g>
<g id="f1"><path class="u" d="M720 3154H905"/><text x="726" y="3147">用于向服务器提交数据</text></g>
<g id="f2"><path class="u" d="M720 3185H929"/><text x="726" y="3178">块元素 用于定义表单区域</text></g>
<g id="f3"><path class="u" d="M720 3262H779"/><text x="726" y="3255">属性</text><use href="#k" x="773" y="3248"/></g>
<g id="f4"><path class="u" d="M786 3216H955"/><text x="792" y="3209">name 定义表单名称</text></g>
<g id="f5"><path class="u" d="M786 3247H1051"/><text x="792" y="3240">action 设置接收表单的服务器url</text></g>
<g id="f6"><path class="u" d="M786 3278H1026"/><text x="792" y="3271">method 设置数据发送的方式</text></g>
<g id="f7"><path class="u" d="M786 3309H1064"/><text x="792" y="3302">enctype 设置发送数据的编码类型</text></g>
<g id="callout"><path class="u" d="M1070 3187Q1081 3187 1081 3200V3234Q1081 3247 1090 3247Q1081 3247 1081 3260V3295Q1081 3309 1070 3309"/><rect x="1097" y="3233" width="172" height="30" fill="#f6f4d2" stroke="#b9b69a" stroke-width="1.2"/><text x="1102" y="3254" style="font-size:16px;fill:#505050">在 Servlet JSP阶段讲解</text></g>
<g id="f8"><path class="u" d="M720 3340H1045"/><text x="726" y="3333">在表单区域中，使用 input 声明表单项目</text></g>
<g id="f9"><path class="u" d="M720 3602H854"/><text x="726" y="3595">表单输入 控件</text><use href="#k" x="848" y="3588"/></g>
<g id="f10"><path class="u" d="M862 3370H1210"/><text x="868" y="3363">通用属性 name 用于在服务器端标识数据的</text></g>
<g id="f11"><path class="u" d="M862 3588H930"/><text x="868" y="3581">input</text><use href="#k" x="924" y="3574"/></g>
<g id="f12"><path class="u" d="M938 3448H1093"/><text x="944" y="3441">input type=text</text><use href="#k" x="1087" y="3434"/></g>
<g id="f13"><path class="u" d="M1099 3401H1216"/><text x="1105" y="3394">单行文本控件</text></g>
<g id="f14"><path class="u" d="M1099 3432H1198"/><text x="1105" y="3425">name 属性</text></g>
<g id="f15"><path class="u" d="M1099 3463H1334"/><text x="1105" y="3456">maxlength 设置最大字符数</text></g>
<g id="f16"><path class="u" d="M1099 3494H1284"/><text x="1105" y="3487">value 用于提供默认值</text></g>
<g id="f17"><path class="u" d="M938 3525H1126"/><text x="944" y="3518">input type=password</text></g>
<g id="f18"><path class="u" d="M938 3556H1090"/><text x="944" y="3549">input type=radio</text></g>
<g id="f19"><path class="u" d="M938 3587H1128"/><text x="944" y="3580">input type=checkbox</text></g>
<g id="f20"><path class="u" d="M938 3618H1070"/><text x="944" y="3611">input type=file</text></g>
<g id="f21"><path class="u" d="M938 3649H1103"/><text x="944" y="3642">input type=hidden</text></g>
<g id="f22"><path class="u" d="M938 3680H1103"/><text x="944" y="3673">input type=submit</text></g>
<g id="f23"><path class="u" d="M938 3711H1090"/><text x="944" y="3704">input type=reset</text></g>
<g id="f24"><path class="u" d="M938 3742H1105"/><text x="944" y="3735">input type=button</text></g>
<g id="f25"><path class="u" d="M938 3773H1100"/><text x="944" y="3766">input type=image</text></g>
<g id="f26"><path class="u" d="M862 3804H955"/><text x="868" y="3797">textarea</text><use href="#k" x="949" y="3790"/></g>
<g id="f27"><path class="u" d="M960 3804H1078"/><text x="966" y="3797">多行文本控件</text></g>
<g id="f28"><path class="u" d="M862 3835H938"/><text x="868" y="3828">select</text><use href="#k" x="932" y="3821"/></g>
<g id="f29"><path class="u" d="M943 3835H1061"/><text x="949" y="3828">下拉列表控件</text></g>
<g id="g0"><path class="u" d="M608 4362H667"/><text x="614" y="4355">表格</text><use href="#k" x="661" y="4348"/></g>
<g id="g1"><path class="u" d="M677 3866H773"/><text x="683" y="3859">行（Row）</text></g>
<g id="g2"><path class="u" d="M677 3897H801"/><text x="683" y="3890">列（Column）</text></g>
<g id="g3"><path class="u" d="M677 4393H853"/><text x="683" y="4386">table 元素定义表格</text><use href="#k" x="847" y="4379"/></g>
<g id="g4"><path class="u" d="M861 3928H947"/><text x="867" y="3921">是 块元素</text></g>
<g id="g5"><path class="u" d="M861 4270H1012"/><text x="867" y="4263">tr （table row）</text><use href="#k" x="1006" y="4256"/></g>
<g id="g6"><path class="u" d="M1020 3959H1120"/><text x="1026" y="3952">定义表格行</text></g>
<g id="g7"><path class="u" d="M1020 4160H1183"/><text x="1026" y="4153">td （table data）</text><use href="#k" x="1177" y="4146"/></g>
<g id="g8"><path class="u" d="M1189 3990H1252"/><text x="1195" y="3983">表格列</text></g>
<g id="g9"><path class="u" d="M1189 4176H1272"/><text x="1195" y="4169">td 属性</text><use href="#k" x="1266" y="4162"/></g>
<g id="g10"><path class="u" d="M1281 4021H1345"/><text x="1287" y="4014">width</text></g>
<g id="g11"><path class="u" d="M1281 4052H1350"/><text x="1287" y="4045">height</text></g>
<g id="g12"><path class="u" d="M1281 4083H1372"/><text x="1287" y="4076">子元素 1</text></g>
<g id="g13"><path class="u" d="M1281 4145H1335"/><text x="1287" y="4138">align</text><use href="#k" x="1329" y="4131"/></g>
<g id="g14"><path class="u" d="M1344 4114H1405"/><text x="1350" y="4107">center</text></g>
<g id="g15"><path class="u" d="M1344 4145H1390"/><text x="1350" y="4138">right</text></g>
<g id="g16"><path class="u" d="M1344 4176H1380"/><text x="1350" y="4169">left</text></g>
<g id="g17"><path class="u" d="M1281 4238H1345"/><text x="1287" y="4231">valign</text><use href="#k" x="1339" y="4224"/></g>
<g id="g18"><path class="u" d="M1354 4207H1392"/><text x="1360" y="4200">top</text></g>
<g id="g19"><path class="u" d="M1354 4238H1420"/><text x="1360" y="4231">middle</text></g>
<g id="g20"><path class="u" d="M1354 4269H1422"/><text x="1360" y="4262">bottom</text></g>
<g id="g21"><path class="u" d="M1281 4300H1356"/><text x="1287" y="4293">colspan</text></g>
<g id="g22"><path class="u" d="M1281 4331H1360"/><text x="1287" y="4324">rowspan</text></g>
<g id="g23"><path class="u" d="M1020 4362H1184"/><text x="1026" y="4355">th （table head）</text><use href="#k" x="1178" y="4348"/></g>
<g id="g24"><path class="u" d="M1194 4362H1312"/><text x="1200" y="4355">作用与td相同</text></g>
<g id="g25"><path class="u" d="M1020 4486H1094"/><text x="1026" y="4479">tr属性</text><use href="#k" x="1088" y="4472"/></g>
<g id="g26"><path class="u" d="M1101 4394H1167"/><text x="1107" y="4387">height</text></g>
<g id="g27"><path class="u" d="M1101 4456H1167"/><text x="1107" y="4449">align</text><use href="#k" x="1161" y="4442"/></g>
<g id="g28"><path class="u" d="M1174 4425H1239"/><text x="1180" y="4418">center</text></g>
<g id="g29"><path class="u" d="M1174 4456H1226"/><text x="1180" y="4449">right</text></g>
<g id="g30"><path class="u" d="M1174 4486H1216"/><text x="1180" y="4479">left</text></g>
<g id="g31"><path class="u" d="M1101 4548H1177"/><text x="1107" y="4541">valign</text><use href="#k" x="1171" y="4534"/></g>
<g id="g32"><path class="u" d="M1184 4517H1224"/><text x="1190" y="4510">top</text></g>
<g id="g33"><path class="u" d="M1184 4548H1255"/><text x="1190" y="4541">middle</text></g>
<g id="g34"><path class="u" d="M1184 4579H1257"/><text x="1190" y="4572">bottom</text></g>
<g id="g35"><path class="u" d="M861 4673H971"/><text x="867" y="4666">表格行分组</text><use href="#k" x="965" y="4659"/></g>
<g id="g36"><path class="u" d="M980 4610H1054"/><text x="986" y="4603">thead</text><use href="#k" x="1048" y="4596"/></g>
<g id="g37"><path class="u" d="M1059 4610H1105"/><text x="1065" y="4603">表头</text></g>
<g id="g38"><path class="u" d="M980 4641H1057"/><text x="986" y="4634">tbody</text><use href="#k" x="1051" y="4627"/></g>
<g id="g39"><path class="u" d="M1062 4641H1145"/><text x="1068" y="4634">表格内容</text></g>
<g id="g40"><path class="u" d="M980 4673H1051"/><text x="986" y="4666">tfoot</text><use href="#k" x="1045" y="4659"/></g>
<g id="g41"><path class="u" d="M1053 4673H1135"/><text x="1059" y="4666">表格页脚</text></g>
<g id="g42"><path class="u" d="M980 4703H1168"/><text x="986" y="4696">表格分组中可以包含 tr</text></g>
<g id="g43"><path class="u" d="M980 4735H1312"/><text x="986" y="4728">表格分组用于逻辑上管理表格行更加方便</text></g>
<g id="g44"><path class="u" d="M861 4811H960"/><text x="867" y="4804">table属性</text><use href="#k" x="954" y="4797"/></g>
<g id="g45"><path class="u" d="M969 4765H1054"/><text x="975" y="4758">border</text><use href="#k" x="1048" y="4751"/></g>
<g id="g46"><path class="u" d="M1057 4765H1105"/><text x="1063" y="4758">边框</text></g>
<g id="g47"><path class="u" d="M969 4796H1092"/><text x="975" y="4789">cellpadding</text><use href="#k" x="1086" y="4782"/></g>
<g id="g48"><path class="u" d="M1099 4796H1216"/><text x="1105" y="4789">格子的内边距</text></g>
<g id="g49"><path class="u" d="M969 4827H1089"/><text x="975" y="4820">cellspacing</text><use href="#k" x="1083" y="4813"/></g>
<g id="g50"><path class="u" d="M1095 4827H1246"/><text x="1101" y="4820">格子之间的外边距</text></g>
<g id="g51"><path class="u" d="M969 4858H1105"/><text x="975" y="4851">width/height</text><use href="#k" x="1099" y="4844"/></g>
<g id="g52"><path class="u" d="M1109 4858H1210"/><text x="1115" y="4851">表格的宽高</text></g>
<g id="c1"><path class="u" d="M274 4899H548"/><text x="280" y="4892">CSS 用于管理页面的显示样式效果</text></g>
<g id="c2"><path class="u" d="M274 4930H391"/><text x="280" y="4923">层叠样式表单</text></g>
<g id="c3"><path class="u" d="M274 4991H407"/><text x="280" y="4984">css 的3中方式</text><use href="#k" x="401" y="4977"/></g>
<g id="c4"><path class="u" d="M415 4960H509"/><text x="421" y="4953">内联方式</text><use href="#k" x="503" y="4946"/></g>
<g id="c5"><path class="u" d="M517 4960H826"/><text x="523" y="4953">使用style属性定义，直接作用在元素上</text></g>
<g id="c6"><path class="u" d="M415 4991H509"/><text x="421" y="4984">内部方式</text><use href="#k" x="503" y="4977"/></g>
<g id="c7"><path class="u" d="M517 4991H986"/><text x="523" y="4984">在页面中使用style元素定义，方便在页面内部共享重用样式</text></g>
<g id="c8"><path class="u" d="M415 5022H512"/><text x="421" y="5015">外部方式</text><use href="#k" x="506" y="5008"/></g>
<g id="c9"><path class="u" d="M518 5022H1125"/><text x="524" y="5015">css文件中定义样式，利用link元素引入到页面中，方便多个页面之间共享样式</text></g>
<g id="c10"><path class="u" d="M274 5084H365"/><text x="280" y="5077">CSS特性</text><use href="#k" x="359" y="5070"/></g>
<g id="c11"><path class="u" d="M373 5053H944"/><text x="379" y="5046">继承性：父元素的样式一般可以继承给子元素，不是全部属性都可以继承</text></g>
<g id="c12"><path class="u" d="M373 5084H735"/><text x="379" y="5077">层叠性：多个样式复合叠加作用于一个元素上</text></g>
<g id="c13"><path class="u" d="M373 5115H656"/><text x="379" y="5108">优先级: 就近原则，最近的声明有效</text></g>
<g id="c14"><path class="u" d="M274 5333H352"/><text x="280" y="5326">选择器</text><use href="#k" x="346" y="5319"/></g>
<g id="c15"><path class="u" d="M358 5146H473"/><text x="364" y="5139">元素选择器</text><use href="#k" x="467" y="5132"/></g>
<g id="c16"><path class="u" d="M478 5146H751"/><text x="484" y="5139">同样标签名称元素设置一致的样式</text></g>
<g id="c17"><path class="u" d="M358 5177H454"/><text x="364" y="5170">类选择器</text><use href="#k" x="448" y="5163"/></g>
<g id="c18"><path class="u" d="M461 5177H717"/><text x="467" y="5170">不同标签名称，使用相同的样式</text></g>
<g id="c19"><path class="u" d="M358 5208H454"/><text x="364" y="5201">ID选择器</text><use href="#k" x="448" y="5194"/></g>
<g id="c20"><path class="u" d="M462 5208H667"/><text x="468" y="5201">对唯一ID的元素设置样式</text></g>
<g id="c21"><path class="u" d="M358 5239H473"/><text x="364" y="5232">分组选择器</text><use href="#k" x="467" y="5225"/></g>
<g id="c22"><path class="u" d="M479 5239H753"/><text x="485" y="5232">将一组选择器选的的元素设置样式</text></g>
<g id="c23"><path class="u" d="M358 5270H473"/><text x="364" y="5263">派生选择器</text><use href="#k" x="467" y="5256"/></g>
<g id="c24"><path class="u" d="M479 5270H666"/><text x="485" y="5263">按照层次关系设置样式</text></g>
<g id="c25"><path class="u" d="M358 5410H471"/><text x="364" y="5403">伪类选择器</text><use href="#k" x="465" y="5396"/></g>
<g id="c26"><path class="u" d="M478 5301H617"/><text x="484" y="5294">:link/* 默认色 */</text></g>
<g id="c27"><path class="u" d="M478 5332H660"/><text x="484" y="5325">:visited/* 访问以后 */</text></g>
<g id="c28"><path class="u" d="M478 5363H658"/><text x="484" y="5356">:hover/* 鼠标Over */</text></g>
<g id="c29"><path class="u" d="M478 5394H689"/><text x="484" y="5387">:active/* 鼠标点击时候 */</text></g>
<g id="c30"><path class="u" d="M478 5425H645"/><text x="484" y="5418">:focus/* 获得焦点*/</text></g>
<g id="c31"><path class="u" d="M478 5456H665"/><text x="484" y="5449">伪类选择器有设置顺序</text></g>
<g id="c32"><path class="u" d="M478 5502H660"/><text x="484" y="5495">伪类选择器常见使用</text><use href="#k" x="654" y="5488"/></g>
<g id="c33"><path class="u" d="M668 5487H856"/><text x="674" y="5480">#menu a{color:#ddd}</text></g>
<g id="c34"><path class="u" d="M668 5518H900"/><text x="674" y="5511">#menu a:hover{color:#00f}</text></g>
<g id="s0"><path class="u" d="M274 6387H368"/><text x="280" y="6380">样式属性</text><use href="#k" x="362" y="6373"/></g>
<g id="s1"><path class="u" d="M377 5612H453"/><text x="383" y="5605">样式值</text><use href="#k" x="447" y="5598"/></g>
<g id="s2"><path class="u" d="M461 5581H556"/><text x="467" y="5574">长度单位</text><use href="#k" x="550" y="5567"/></g>
<g id="s3"><path class="u" d="M564 5550H592"/><text x="570" y="5543">%</text></g>
<g id="s4"><path class="u" d="M564 5581H594"/><text x="570" y="5574">px</text></g>
<g id="s5"><path class="u" d="M564 5611H601"/><text x="570" y="5604">em</text></g>
<g id="s6"><path class="u" d="M461 5657H523"/><text x="467" y="5650">颜色</text><use href="#k" x="517" y="5643"/></g>
<g id="s7"><path class="u" d="M530 5642H605"/><text x="536" y="5635">#红绿蓝</text></g>
<g id="s8"><path class="u" d="M530 5673H585"/><text x="536" y="5666">color</text></g>
<g id="s9"><path class="u" d="M377 5750H471"/><text x="383" y="5743">盒子模型</text><use href="#k" x="465" y="5736"/></g>
<g id="s10"><path class="u" d="M478 5704H609"/><text x="484" y="5697">width、height</text></g>
<g id="s11"><path class="u" d="M478 5735H616"/><text x="484" y="5728">padding 内边距</text></g>
<g id="s12"><path class="u" d="M478 5766H597"/><text x="484" y="5759">border：边框</text></g>
<g id="s13"><path class="u" d="M478 5797H606"/><text x="484" y="5790">margin 外边距</text></g>
<g id="s14"><path class="u" d="M377 5905H436"/><text x="383" y="5898">背景</text><use href="#k" x="430" y="5891"/></g>
<g id="s15"><path class="u" d="M443 5828H942"/><text x="449" y="5821">background:背景色 背景图片 背景图片重复属性 背景图片定位</text></g>
<g id="s16"><path class="u" d="M443 5859H892"/><text x="449" y="5852">背景可以单独设置，也可以复合设置，复合设置更加方便</text></g>
<g id="s17"><path class="u" d="M443 5937H573"/><text x="449" y="5930">单独设置背景</text><use href="#k" x="567" y="5923"/></g>
<g id="s18"><path class="u" d="M580 5890H949"/><text x="586" y="5883">background-image: url("image/bg_01.gif");</text></g>
<g id="s19"><path class="u" d="M580 5921H843"/><text x="586" y="5914">background-repeat : repeat-x;</text></g>
<g id="s20"><path class="u" d="M580 5952H838"/><text x="586" y="5945">background-position : center;</text></g>
<g id="s21"><path class="u" d="M580 5983H854"/><text x="586" y="5976">background-attachment : fixed;</text></g>
<g id="s22"><path class="u" d="M377 6077H436"/><text x="383" y="6070">文本</text><use href="#k" x="430" y="6063"/></g>
<g id="s23"><path class="u" d="M443 6014H539"/><text x="449" y="6007">文本颜色</text><use href="#k" x="533" y="6000"/></g>
<g id="s24"><path class="u" d="M547 6014H667"/><text x="553" y="6007">color : value;</text></g>
<g id="s25"><path class="u" d="M443 6046H539"/><text x="449" y="6039">文本排列</text><use href="#k" x="533" y="6032"/></g>
<g id="s26"><path class="u" d="M544 6046H790"/><text x="550" y="6039">text-align : left/right/center;</text></g>
<g id="s27"><path class="u" d="M443 6077H539"/><text x="449" y="6070">文字修饰</text><use href="#k" x="533" y="6063"/></g>
<g id="s28"><path class="u" d="M545 6077H834"/><text x="551" y="6070">text-decoration : none/underline;</text></g>
<g id="s29"><path class="u" d="M443 6108H506"/><text x="449" y="6101">行高</text><use href="#k" x="500" y="6094"/></g>
<g id="s30"><path class="u" d="M511 6108H678"/><text x="517" y="6101">line-height : value;</text></g>
<g id="s31"><path class="u" d="M443 6138H575"/><text x="449" y="6131">首行文本缩进</text><use href="#k" x="569" y="6124"/></g>
<g id="s32"><path class="u" d="M581 6138H750"/><text x="587" y="6131">text-indent : value;</text></g>
<g id="s33"><path class="u" d="M377 6325H504"/><text x="383" y="6318">定位（布局）</text><use href="#k" x="498" y="6311"/></g>
<g id="s34"><path class="u" d="M512 6184H623"/><text x="518" y="6177">默认流定位</text><use href="#k" x="617" y="6170"/></g>
<g id="s35"><path class="u" d="M632 6169H922"/><text x="638" y="6162">块元素，在容器中从上到下顺序定位</text></g>
<g id="s36"><path class="u" d="M632 6201H1010"/><text x="638" y="6194">行内元素(内联元素) 在容器中冲左到由顺序定位</text></g>
<g id="s37"><path class="u" d="M512 6325H606"/><text x="518" y="6318">浮动定位</text><use href="#k" x="600" y="6311"/></g>
<g id="s38"><path class="u" d="M614 6231H815"/><text x="620" y="6224">1 浮动块脱离原有流定位</text></g>
<g id="s39"><path class="u" d="M614 6262H815"/><text x="620" y="6255">2 原有位置被后续块占用</text></g>
<g id="s40"><path class="u" d="M614 6293H949"/><text x="620" y="6286">3 浮动块，浮动到容器的内部(左，右位置)</text></g>
<g id="s41"><path class="u" d="M614 6324H694"/><text x="620" y="6317">卡住现象</text></g>
<g id="s42"><path class="u" d="M614 6371H779"/><text x="620" y="6364">清楚浮动定位影响</text><use href="#k" x="773" y="6357"/></g>
<g id="s43"><path class="u" d="M786 6355H892"/><text x="792" y="6348">clear : both</text></g>
<g id="s44"><path class="u" d="M786 6386H1340"/><text x="792" y="6379">如果不清楚浮动的影响，后续块移动移动以后发生文字绕排，网页</text></g>
<g id="s45"><path class="u" d="M614 6417H746"/><text x="620" y="6410">float: right/left</text></g>
<g id="s46"><path class="u" d="M512 6463H656"/><text x="518" y="6456">浮动定位的用途</text><use href="#k" x="650" y="6449"/></g>
<g id="s47"><path class="u" d="M665 6448H779"/><text x="671" y="6441">网站菜单布局</text></g>
<g id="s48"><path class="u" d="M665 6479H779"/><text x="671" y="6472">网站侧栏布局</text></g>
<g id="s49"><path class="u" d="M377 6711H436"/><text x="383" y="6704">列表</text><use href="#k" x="430" y="6697"/></g>
<g id="s50"><path class="u" d="M443 6510H561"/><text x="449" y="6503">修改列表样式</text></g>
<g id="s51"><path class="u" d="M443 6665H583"/><text x="449" y="6658">list-style-type</text><use href="#k" x="577" y="6651"/></g>
<g id="s52"><path class="u" d="M590 6541H900"/><text x="596" y="6534">属性用于控制列表中列表项标志的样式</text></g>
<g id="s53"><path class="u" d="M590 6618H720"/><text x="596" y="6611">无序列表取值</text><use href="#k" x="714" y="6604"/></g>
<g id="s54"><path class="u" d="M727 6572H850"/><text x="733" y="6565">none：无标记</text></g>
<g id="s55"><path class="u" d="M727 6603H927"/><text x="733" y="6596">disc：实心圆，为默认值</text></g>
<g id="s56"><path class="u" d="M727 6634H850"/><text x="733" y="6627">circle：空心圆</text></g>
<g id="s57"><path class="u" d="M727 6665H882"/><text x="733" y="6658">square：实心方块</text></g>
<g id="s58"><path class="u" d="M590 6743H720"/><text x="596" y="6736">有序列表取值</text><use href="#k" x="714" y="6729"/></g>
<g id="s59"><path class="u" d="M727 6697H850"/><text x="733" y="6690">none：无标记</text></g>
<g id="s60"><path class="u" d="M727 6727H1070"/><text x="733" y="6720">decimal：数字（如 1,2,3,4,5），为默认值</text></g>
<g id="s61"><path class="u" d="M727 6758H1114"/><text x="733" y="6751">lower-roman：小写罗马数字（如 i, ii, iii, iv, v）</text></g>
<g id="s62"><path class="u" d="M727 6789H1122"/><text x="733" y="6782">upper-roman：大写罗马数字（如 I, II, III, IV, V）</text></g>
<g id="s63"><path class="u" d="M443 6835H597"/><text x="449" y="6828">list-style-image</text><use href="#k" x="591" y="6821"/></g>
<g id="s64"><path class="u" d="M606 6820H880"/><text x="612" y="6813">属性使用图像来替换列表项的标记</text></g>
<g id="s65"><path class="u" d="M606 6851H1046"/><text x="612" y="6844">取值为： url( )，指定图像作为有序或无序列表项的标志</text></g>
<g id="s66"><path class="u" d="M443 6898H539"/><text x="449" y="6891">list-style</text><use href="#k" x="533" y="6884"/></g>
<g id="s67"><path class="u" d="M546 6882H699"/><text x="552" y="6875">复合设置列表样式</text></g>
<g id="s68"><path class="u" d="M546 6913H726"/><text x="552" y="6906">取值为：样式 url( )</text><use href="#k" x="720" y="6899"/></g>
<g id="s69"><path class="u" d="M732 6913H955"/><text x="738" y="6906">比如：list-style: none url()</text></g>
<g id="s70"><path class="u" d="M377 6975H471"/><text x="383" y="6968">显示方式</text><use href="#k" x="465" y="6961"/></g>
<g id="s71"><path class="u" d="M478 6944H627"/><text x="484" y="6937">display : block</text><use href="#k" x="621" y="6930"/></g>
<g id="s72"><path class="u" d="M632 6944H766"/><text x="638" y="6937">按照块方式显示</text></g>
<g id="s73"><path class="u" d="M478 6975H623"/><text x="484" y="6968">display : none</text><use href="#k" x="617" y="6961"/></g>
<g id="s74"><path class="u" d="M629 6975H693"/><text x="635" y="6968">不显示</text></g>
<g id="s75"><path class="u" d="M478 7006H627"/><text x="484" y="6999">diaplay : inline</text><use href="#k" x="621" y="6992"/></g>
<g id="s76"><path class="u" d="M633 7006H820"/><text x="639" y="6999">按照行内元素方式显示</text></g>
<g id="s77"><path class="u" d="M377 7131H436"/><text x="383" y="7124">光标</text><use href="#k" x="430" y="7117"/></g>
<g id="s78"><path class="u" d="M443 7037H1002"/><text x="449" y="7030">cursor 属性定义了鼠标指针放在一个元素边界范围内时所用的光标形状</text></g>
<g id="s79"><path class="u" d="M443 7145H520"/><text x="449" y="7138">可取值</text><use href="#k" x="514" y="7131"/></g>
<g id="s80"><path class="u" d="M529 7068H600"/><text x="535" y="7061">default</text></g>
<g id="s81"><path class="u" d="M529 7099H601"/><text x="535" y="7092">pointer</text></g>
<g id="s82"><path class="u" d="M529 7131H616"/><text x="535" y="7124">crosshair</text></g>
<g id="s83"><path class="u" d="M529 7162H573"/><text x="535" y="7155">text</text></g>
<g id="s84"><path class="u" d="M529 7192H575"/><text x="535" y="7185">wait</text></g>
<g id="s85"><path class="u" d="M529 7223H600"/><text x="535" y="7216">help 等</text></g>
</g>
</svg>
